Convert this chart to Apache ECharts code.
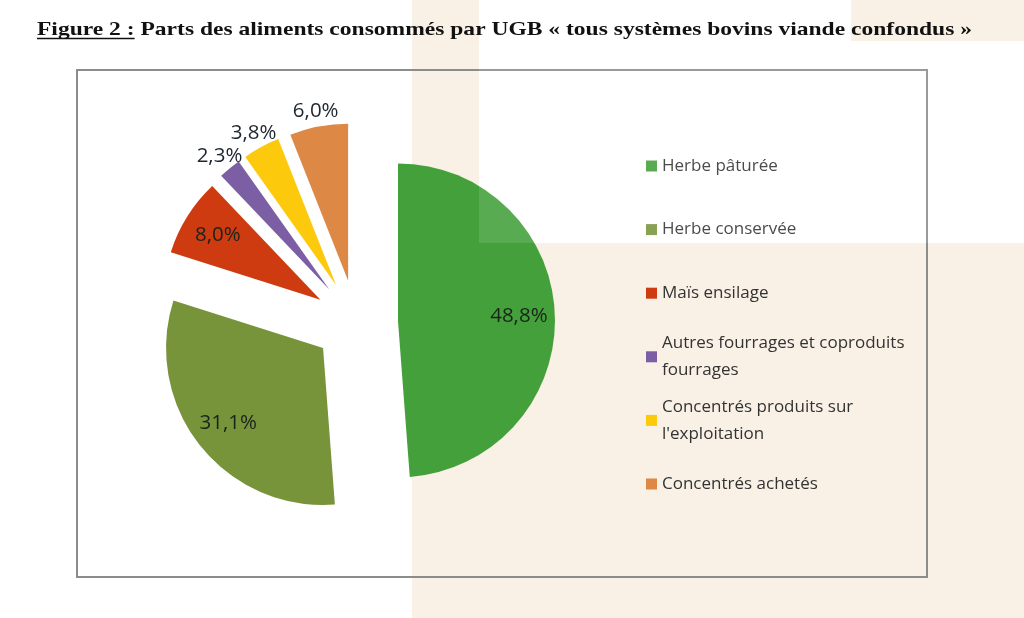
<!DOCTYPE html>
<html>
<head>
<meta charset="utf-8">
<script src="https://cdn.jsdelivr.net/npm/echarts@6/dist/echarts.min.js"></script>
<style>
  html, body { margin: 0; padding: 0; background: #ffffff; }
  #chart { width: 1024px; height: 618px; }
</style>
</head>
<body>
<div id="chart"></div>
<script>
// ---- data ----
const titlePart1 = 'Figure 2 :';
const titlePart2 = ' Parts des aliments consommés par UGB « tous systèmes bovins viande confondus »';
const categories = [
  'Herbe pâturée',
  'Herbe conservée',
  'Maïs ensilage',
  'Autres fourrages et coproduits fourrages',
  "Concentrés produits sur l'exploitation",
  'Concentrés achetés'
];
const legendLabels = [
  'Herbe pâturée',
  'Herbe conservée',
  'Maïs ensilage',
  'Autres fourrages et coproduits\nfourrages',
  'Concentrés produits sur\nl\'exploitation',
  'Concentrés achetés'
];
const values = [48.8, 31.1, 8.0, 2.3, 3.8, 6.0];
const colors = ['#43a03a', '#78943b', '#cf3b10', '#7b5ea4', '#fcc90d', '#de8845'];
const bigLabel = [true, true, true, false, false, false];

// ---- layout / style ----
const W = 1024, H = 618;
const pieCenter = [356, 322];
const pieR = 157;
const explode = 42;
const beige = '#f9f0e6';
const fmt = v => v.toFixed(1).replace('.', ',') + '%';

const chart = echarts.init(document.getElementById('chart'), null, { renderer: 'canvas' });

// measure title for horizontal stretching
const cv = document.createElement('canvas').getContext('2d');
const titleFont = 'bold 19px "Liberation Serif"';
cv.font = titleFont;
const wFull = cv.measureText(titlePart1 + titlePart2).width;
const wPart1 = cv.measureText(titlePart1).width;
const titleX = 37, titleTargetW = 935;
const sx = titleTargetW / wFull;

function mkData(showFn, transparent) {
  return categories.map((c, i) => ({
    name: c,
    value: values[i],
    selected: true,
    itemStyle: { color: transparent ? 'rgba(0,0,0,0)' : colors[i] },
    label: { show: showFn(i) }
  }));
}

const labelStyle = {
  position: 'inside',
  formatter: p => fmt(p.value),
  color: '#1b241b',
  fontFamily: '"Open Sans", sans-serif',
  fontSize: 20.5
};

const legends = categories.map((c, i) => {
  const lines = legendLabels[i].split('\n').length;
  const firstLineCenter = 166 + i * 63.6;
  return {
    orient: 'vertical',
    left: 646,
    top: firstLineCenter - 13.5 - (lines - 1) * 27,
    padding: 0,
    itemWidth: 11,
    itemHeight: 11,
    icon: 'rect',
    selectedMode: false,
    data: [{ name: c, itemStyle: { color: colors[i] } }],
    formatter: () => legendLabels[i],
    textStyle: {
      color: '#333333',
      fontFamily: '"Open Sans", sans-serif',
      fontSize: 17,
      lineHeight: 27,
      padding: [(lines - 1) * 27, 0, 0, 0]
    }
  };
});

const commonPie = {
  type: 'pie',
  center: pieCenter,
  startAngle: 90,
  clockwise: true,
  selectedMode: 'multiple',
  selectedOffset: explode,
  avoidLabelOverlap: false,
  labelLine: { show: false },
  labelLayout: { hideOverlap: false },
  select: { itemStyle: { borderWidth: 0 } },
  emphasis: { disabled: true },
  animation: false
};

chart.setOption({
  backgroundColor: '#ffffff',
  animation: false,
  legend: legends,
  graphic: [
    // background watermark blocks
    { type: 'rect', z: -10, silent: true, shape: { x: 412, y: 0, width: 67, height: H }, style: { fill: beige } },
    { type: 'rect', z: -10, silent: true, shape: { x: 412, y: 243, width: W - 412, height: H - 243 }, style: { fill: beige } },
    { type: 'rect', z: -10, silent: true, shape: { x: 851, y: 0, width: W - 851, height: 41 }, style: { fill: beige } },
    // chart frame
    { type: 'rect', z: -5, silent: true, shape: { x: 77, y: 70, width: 850, height: 507 }, style: { fill: null, stroke: '#8c8c8c', lineWidth: 2 } },
    // light overlay (watermark)
    { type: 'rect', z: 100, silent: true, shape: { x: 479, y: 41, width: W - 479, height: 202 }, style: { fill: 'rgba(255,255,255,0.12)' } },
    // title
    {
      type: 'text', z: 50, silent: true, x: titleX, y: 30, scaleX: sx, scaleY: 1,
      style: { text: titlePart1 + titlePart2, font: titleFont, fill: '#111', verticalAlign: 'middle', align: 'left' }
    },
    {
      type: 'line', z: 50, silent: true,
      shape: { x1: titleX, y1: 38.5, x2: titleX + wPart1 * sx, y2: 38.5 },
      style: { stroke: '#111', lineWidth: 1.5 }
    }
  ],
  series: [
    Object.assign({}, commonPie, {
      name: 'main',
      radius: pieR,
      label: { show: false },
      data: mkData(() => false, false)
    }),
    Object.assign({}, commonPie, {
      name: 'labelsBig',
      silent: true,
      radius: 236,
      label: Object.assign({}, labelStyle),
      data: mkData(i => bigLabel[i], true)
    }),
    Object.assign({}, commonPie, {
      name: 'labelsSmall',
      silent: true,
      radius: 340,
      label: Object.assign({}, labelStyle, { color: '#1f2630' }),
      data: mkData(i => !bigLabel[i], true)
    })
  ]
});
</script>
</body>
</html>
